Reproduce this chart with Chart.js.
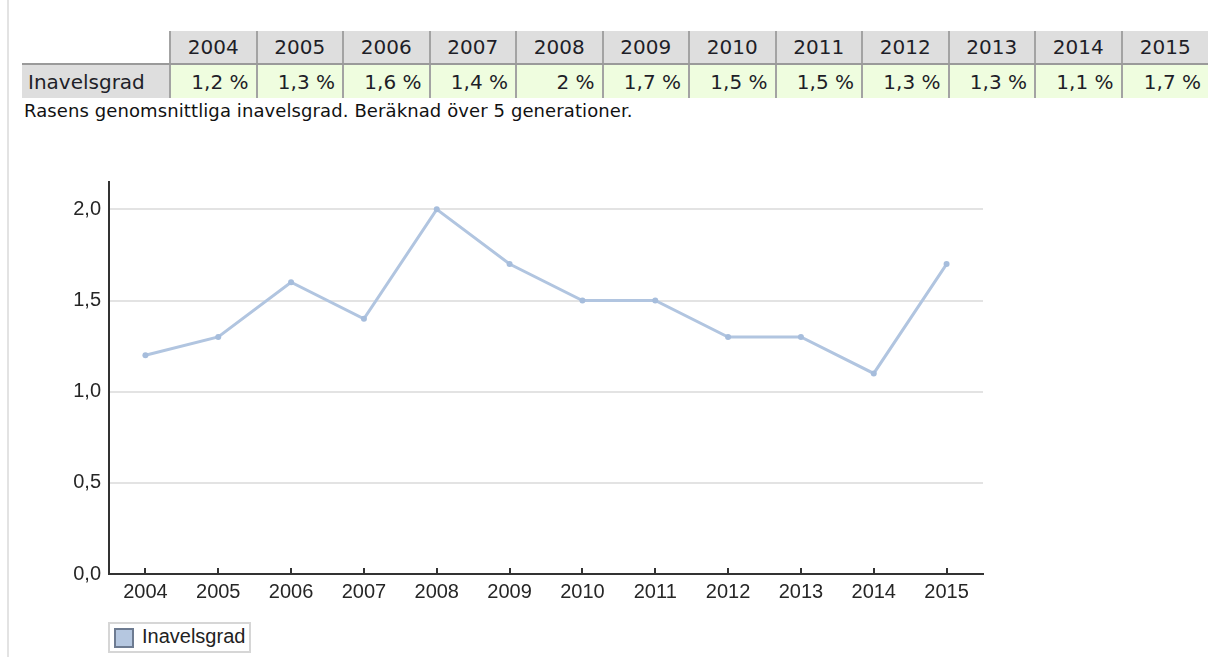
<!DOCTYPE html>
<html>
<head>
<meta charset="utf-8">
<script src="https://cdn.jsdelivr.net/npm/chart.js@4/dist/chart.umd.min.js"></script>
<style>
  html, body { margin:0; padding:0; background:#fff; width:1208px; height:657px; overflow:hidden; }
  #pageline { position:absolute; left:7px; top:0; width:2px; height:657px; background:#e3e3e3; }
  #tbl { position:absolute; left:22px; top:31px; width:1186px; border-collapse:collapse; table-layout:fixed;
         font-family:"DejaVu Sans", Verdana, sans-serif; font-size:20px; color:#1e1e28; }
  #tbl th, #tbl td { padding:0; white-space:nowrap; overflow:hidden; }
  #tbl th { height:32px; font-weight:normal; background:#dedede; text-align:center; border-left:2px solid #a3a3a3; border-bottom:2px solid #9a9a9a; }
  #tbl th.corner { background:transparent; border-left:none; }
  #tbl td { height:33px; background:#effddf; text-align:right; padding-right:7px; border-left:2px solid #a3a3a3; }
  #tbl td.rowhead { background:#dedede; text-align:left; padding-left:6px; padding-right:0; border-left:none; }
  #caption { position:absolute; left:24px; top:100px; font-family:"DejaVu Sans", Verdana, sans-serif; font-size:18px; letter-spacing:0.1px; color:#111; white-space:nowrap; }
  #chartwrap { position:absolute; left:0; top:150px; width:1000px; height:507px; }
  #legend { position:absolute; left:108px; top:622px; width:143px; height:31px; box-sizing:border-box; border:2px solid #d6d6d6; background:#fff; }
  #legend .sw { position:absolute; left:4px; top:4px; width:20px; height:20px; box-sizing:border-box; border:2px solid #6d7b91; background:#b5c7e0; }
  #legend .tx { position:absolute; left:32px; top:1px; font-family:"Liberation Sans", Arial, sans-serif; font-size:20px; color:#222; }
</style>
</head>
<body>
<div id="pageline"></div>
<table id="tbl"><thead><tr id="hrow"></tr></thead><tbody><tr id="drow"></tr></tbody></table>
<div id="caption"></div>
<div id="chartwrap"><canvas id="c"></canvas></div>
<div id="legend"><div class="sw"></div><div class="tx">Inavelsgrad</div></div>
<script>
const years = ['2004','2005','2006','2007','2008','2009','2010','2011','2012','2013','2014','2015'];
const inavelsgrad = [1.2, 1.3, 1.6, 1.4, 2.0, 1.7, 1.5, 1.5, 1.3, 1.3, 1.1, 1.7];
const seriesLabel = 'Inavelsgrad';
const captionText = 'Rasens genomsnittliga inavelsgrad. Beräknad över 5 generationer.';

// table
const hrow = document.getElementById('hrow');
const drow = document.getElementById('drow');
const corner = document.createElement('th'); corner.className = 'corner'; corner.style.width = '147px'; hrow.appendChild(corner);
const rh = document.createElement('td'); rh.className = 'rowhead'; rh.textContent = seriesLabel; drow.appendChild(rh);
years.forEach((y, i) => {
  const th = document.createElement('th'); th.textContent = y; hrow.appendChild(th);
  const td = document.createElement('td'); td.textContent = String(inavelsgrad[i]).replace('.', ',') + ' %'; drow.appendChild(td);
});
document.getElementById('caption').textContent = captionText;

const fmt = v => v.toFixed(1).replace('.', ',');
const tickMarks = {
  id: 'tickMarks',
  afterDraw(chart) {
    const xs = chart.scales.x, ctx = chart.ctx, b = chart.chartArea.bottom;
    ctx.save();
    ctx.strokeStyle = '#333'; ctx.lineWidth = 2;
    xs.ticks.forEach((t, i) => {
      const px = Math.round(xs.getPixelForTick(i));
      ctx.beginPath(); ctx.moveTo(px, b); ctx.lineTo(px, b - 6); ctx.stroke();
    });
    ctx.restore();
  }
};

new Chart(document.getElementById('c'), {
  type: 'line',
  data: {
    labels: years,
    datasets: [{
      label: seriesLabel,
      data: inavelsgrad,
      borderColor: '#b1c5e0',
      backgroundColor: '#b1c5e0',
      borderWidth: 3,
      pointRadius: 3,
      pointBackgroundColor: '#a6bddc',
      pointBorderWidth: 0,
      tension: 0
    }]
  },
  options: {
    responsive: true,
    maintainAspectRatio: false,
    animation: false,
    layout: { padding: { left: 0, right: 17, top: 32, bottom: 43 } },
    plugins: { legend: { display: false }, tooltip: { enabled: false } },
    scales: {
      x: {
        offset: true,
        grid: { display: false, drawTicks: false },
        border: { display: true, color: '#333', width: 2 },
        ticks: { color: '#262626', padding: 6, font: { family: 'Liberation Sans', size: 20 }, maxRotation: 0, autoSkip: false },
        afterFit: s => { s.height = 40; }
      },
      y: {
        min: 0, max: 2.15,
        grid: { color: '#e3e3e3', lineWidth: 2, drawTicks: false },
        border: { display: true, color: '#333', width: 2 },
        ticks: { stepSize: 0.5, includeBounds: false, color: '#262626', padding: 8, font: { family: 'Liberation Sans', size: 20 }, callback: v => fmt(v) },
        afterFit: s => { s.width = 109; }
      }
    }
  },
  plugins: [tickMarks]
});
</script>
</body>
</html>
